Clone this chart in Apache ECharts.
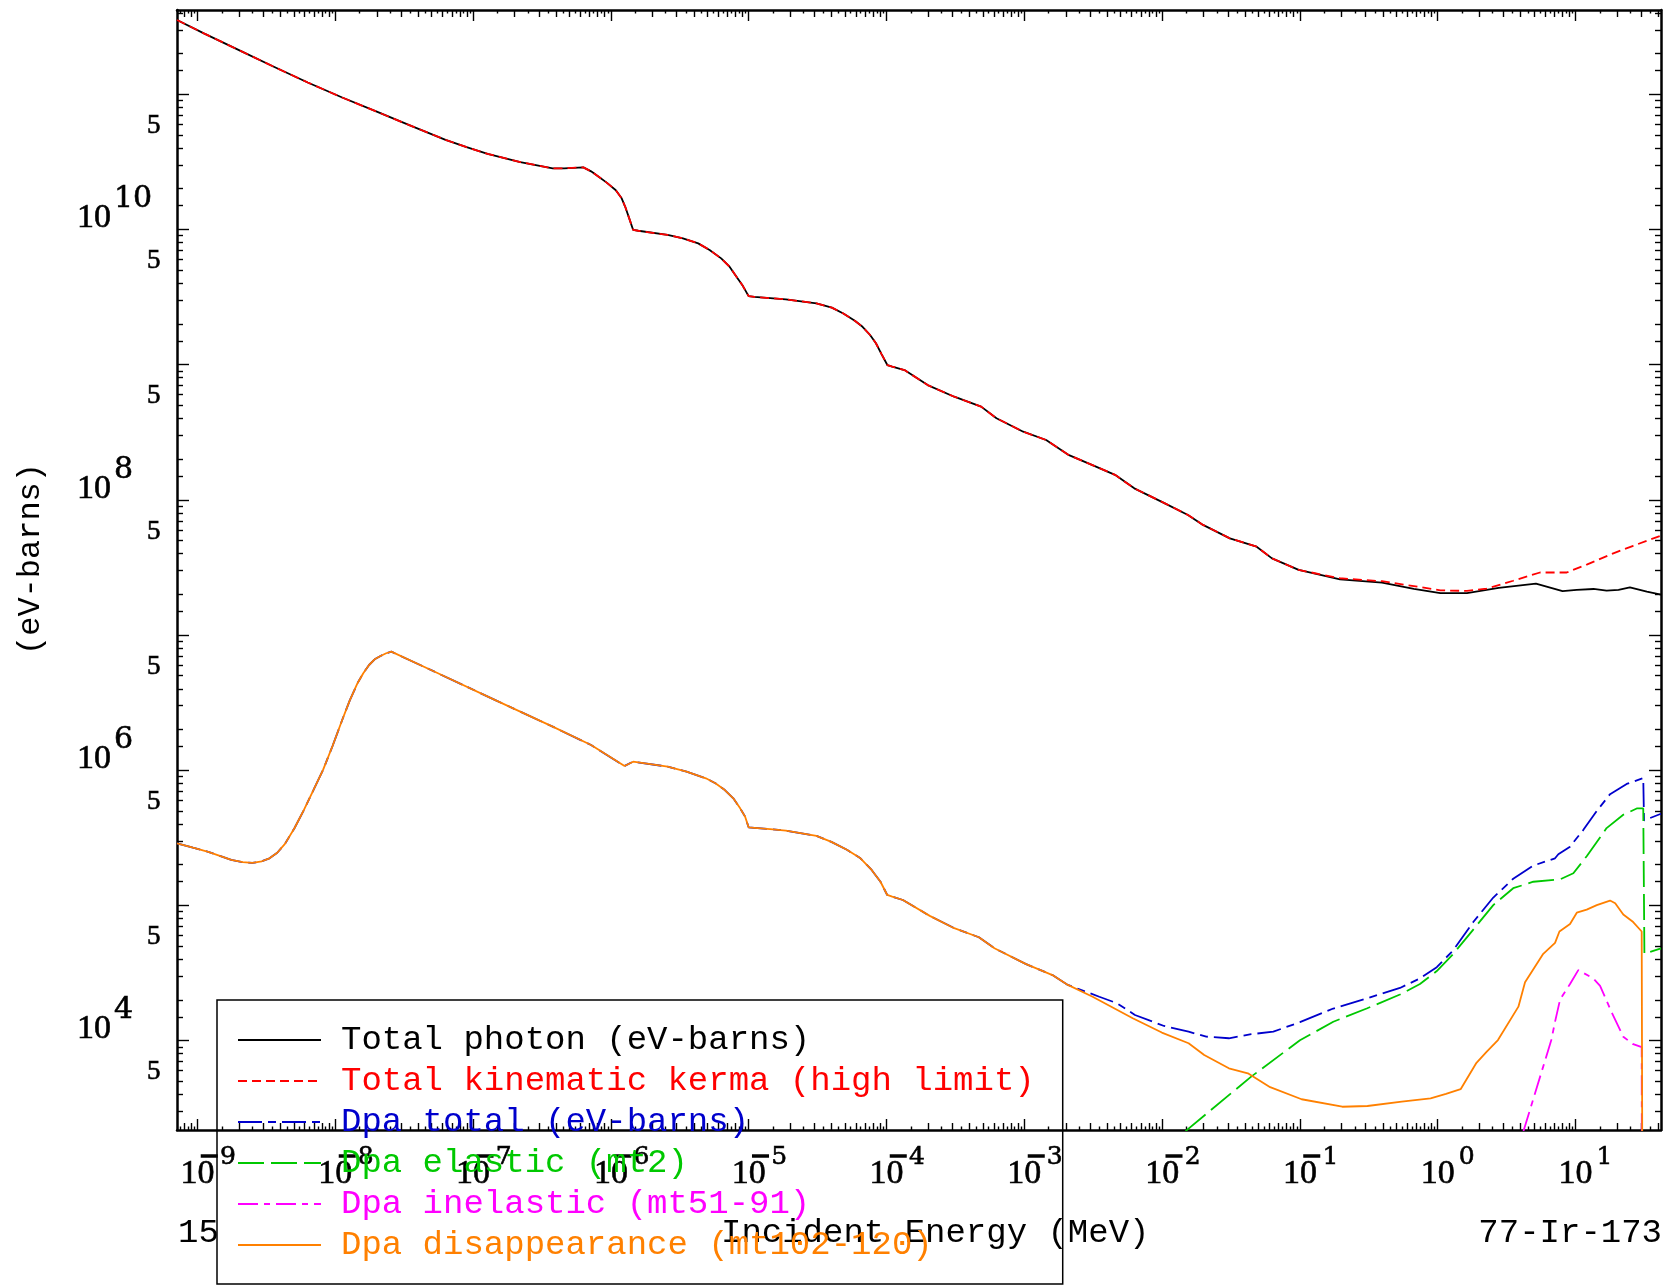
<!DOCTYPE html>
<html><head><meta charset="utf-8">
<script src="https://cdn.jsdelivr.net/npm/echarts@6/dist/echarts.min.js"></script>
<style>html,body{margin:0;padding:0;background:#fff}#c{width:1667px;height:1286px}</style>
</head><body><div id="c"></div>
<script>
// ---- axis ranges (MeV, eV-barns)
const energyRange = [7.1e-10, 41.7];
const valueRange = [2.18e3, 4.2e11];

// ---- tick labels
const xLabelExponents = [-9, -8, -7, -6, -5, -4, -3, -2, -1, 0, 1];
const yLabelExponents = [4, 6, 8, 10];
const yFiveLabels = [5e3, 5e4, 5e5, 5e6, 5e7, 5e8, 5e9, 5e10];

// ---- legend / series names and colours
const seriesNames = [
  'Total photon (eV-barns)',
  'Total kinematic kerma (high limit)',
  'Dpa total (eV-barns)',
  'Dpa elastic (mt2)',
  'Dpa inelastic (mt51-91)',
  'Dpa disappearance (mt102-120)'
];
const seriesColors = ['#000000', '#ff0000', '#0000cc', '#00c800', '#ff00ff', '#ff8000'];

// ---- data: [energy (MeV), value (eV-barns)]
const totalPhoton = [
  [7.10e-10,3.54e11],[1.122e-9,2.81e11],[2.00e-9,2.12e11],[3.55e-9,1.603e11],[6.31e-9,1.222e11],
  [1.122e-8,9.46e10],[2.00e-8,7.43e10],[3.55e-8,5.83e10],[6.31e-8,4.60e10],[8.97e-8,4.06e10],
  [1.274e-7,3.62e10],[2.20e-7,3.15e10],[3.78e-7,2.83e10],[4.58e-7,2.83e10],[6.31e-7,2.88e10],
  [7.18e-7,2.69e10],[8.15e-7,2.45e10],[9.27e-7,2.23e10],[1.086e-6,1.95e10],[1.197e-6,1.70e10],
  [1.27e-6,1.47e10],[1.358e-6,1.208e10],[1.45e-6,9.91e9],[1.58e-6,9.78e9],[2.58e-6,9.10e9],
  [3.33e-6,8.59e9],[4.30e-6,7.89e9],[5.20e-6,7.05e9],[6.31e-6,6.11e9],[7.26e-6,5.30e9],
  [8.15e-6,4.47e9],[9.08e-6,3.81e9],[9.98e-6,3.21e9],[1.10e-5,3.17e9],[1.86e-5,3.04e9],
  [3.10e-5,2.84e9],[4.01e-5,2.64e9],[4.86e-5,2.39e9],[5.89e-5,2.11e9],[6.70e-5,1.905e9],
  [7.60e-5,1.656e9],[8.38e-5,1.44e9],[9.20e-5,1.197e9],[1.014e-4,9.93e8],[1.10e-4,9.68e8],
  [1.35e-4,9.12e8],[1.99e-4,7.06e8],[3.10e-4,5.79e8],[4.86e-4,4.89e8],[6.28e-4,4.01e8],
  [9.82e-4,3.19e8],[1.44e-3,2.77e8],[2.11e-3,2.14e8],[3.31e-3,1.76e8],[4.55e-3,1.53e8],
  [6.28e-3,1.216e8],[1.047e-2,9.42e7],[1.54e-2,7.73e7],[1.98e-2,6.52e7],[3.10e-2,5.19e7],
  [4.85e-2,4.50e7],[6.27e-2,3.69e7],[9.79e-2,3.03e7],[0.1954,2.58e7],[0.394,2.44e7],
  [0.671,2.19e7],[1.045,2.04e7],[1.63,2.04e7],[2.77,2.23e7],[5.16,2.40e7],
  [8.05,2.11e7],[10.2,2.16e7],[13.5,2.19e7],[16.8,2.13e7],[20.5,2.16e7],[24.8,2.25e7],[32.9,2.09e7],[41.7,1.99e7]
];
const kermaHigh = [
  [0.1954,2.63e7],[0.394,2.50e7],[0.671,2.30e7],[1.045,2.14e7],[1.63,2.12e7],[2.26,2.20e7],
  [3.53,2.52e7],[5.52,2.90e7],[8.63,2.90e7],[12.05,3.32e7],[18.8,4.02e7],[26.2,4.57e7],[41.7,5.43e7]
];
const dpaDisappearance = [
  [7.10e-10,2.88e5],[9.27e-10,2.67e5],[1.197e-9,2.49e5],[1.452e-9,2.32e5],[1.758e-9,2.17e5],
  [2.13e-9,2.09e5],[2.50e-9,2.06e5],[2.93e-9,2.12e5],[3.33e-9,2.23e5],[3.79e-9,2.45e5],
  [4.31e-9,2.85e5],[5.05e-9,3.72e5],[5.92e-9,5.08e5],[6.95e-9,7.14e5],[8.15e-9,1.005e6],
  [9.55e-9,1.51e6],[1.122e-8,2.35e6],[1.276e-8,3.30e6],[1.449e-8,4.40e6],[1.596e-8,5.21e6],
  [1.758e-8,6.00e6],[1.93e-8,6.61e6],[2.13e-8,7.00e6],[2.34e-8,7.33e6],[2.55e-8,7.53e6],
  [5.56e-8,5.21e6],[1.449e-7,3.30e6],[3.78e-7,2.10e6],[7.18e-7,1.535e6],[1.256e-6,1.074e6],
  [1.449e-6,1.156e6],[2.58e-6,1.062e6],[3.54e-6,9.75e5],[4.89e-6,8.71e5],[5.73e-6,8.00e5],
  [6.71e-6,7.13e5],[7.73e-6,6.19e5],[8.67e-6,5.22e5],[9.42e-6,4.53e5],[9.98e-6,3.78e5],
  [1.10e-5,3.75e5],[1.429e-5,3.66e5],[1.862e-5,3.57e5],[3.10e-5,3.27e5],[3.98e-5,2.95e5],
  [5.16e-5,2.58e5],[6.47e-5,2.23e5],[7.80e-5,1.828e5],[9.04e-5,1.496e5],[1.012e-4,1.194e5],
  [1.10e-4,1.16e5],[1.315e-4,1.096e5],[2.06e-4,8.36e4],[3.10e-4,6.78e4],[4.68e-4,5.81e4],
  [6.07e-4,4.82e4],[1.021e-3,3.69e4],[1.600e-3,3.05e4],[2.07e-3,2.58e4],[3.13e-3,2.11e4],
  [6.12e-3,1.462e4],[9.95e-3,1.146e4],[1.556e-2,9.55e3],[2.02e-2,7.82e3],[3.05e-2,6.24e3],
  [4.19e-2,5.73e3],[6.08e-2,4.52e3],[0.1028,3.68e3],[0.2028,3.24e3],[0.309,3.28e3],
  [0.548,3.53e3],[0.887,3.74e3],[1.148,4.03e3],[1.466,4.37e3],[1.91,6.85e3],[2.26,8.24e3],
  [2.735,1.009e4],[3.85,1.782e4],[4.30,2.70e4],[5.83,4.38e4],[7.10,5.28e4],[7.64,6.41e4],
  [9.12,7.29e4],[10.21,8.83e4],[12.05,9.31e4],[14.26,1.005e5],[17.8,1.086e5],[19.4,1.038e5],
  [22.2,8.57e4],[26.2,7.53e4],[30.2,6.41e4],[30.7,100]
];
const dpaTotalTail = [
  [3.50e-3,2.11e4],[4.71e-3,1.888e4],[6.35e-3,1.545e4],[1.033e-2,1.282e4],[1.556e-2,1.164e4],
  [2.09e-2,1.069e4],[3.05e-2,1.040e4],[4.43e-2,1.114e4],[6.41e-2,1.164e4],[0.1,1.368e4],
  [0.1746,1.726e4],[0.305,2.05e4],[0.532,2.45e4],[0.743,2.88e4],[0.984,3.49e4],[1.297,4.66e4],
  [1.811,7.53e4],[2.53,1.143e5],[3.53,1.574e5],[4.94,1.968e5],[7.10,2.23e5],[7.50,2.39e5],
  [9.12,2.72e5],[11.40,3.62e5],[14.26,4.99e5],[17.8,6.65e5],[23.5,7.91e5],[31.0,8.75e5],
  [31.4,4.25e5],[41.7,4.76e5]
];
const dpaElastic = [
  [1.479e-2,2.14e3],[4.43e-2,5.41e3],[0.1,1.005e4],[0.1746,1.377e4],[0.305,1.726e4],[0.532,2.19e4],
  [0.743,2.62e4],[0.984,3.27e4],[1.297,4.38e4],[1.811,6.62e4],[2.53,1.005e5],[3.53,1.340e5],
  [4.94,1.496e5],[7.71,1.556e5],[9.64,1.730e5],[12.05,2.31e5],[16.8,3.73e5],[22.2,4.68e5],
  [27.8,5.21e5],[31.0,5.21e5],[31.6,4.38e4],[41.7,4.80e4]
];
const dpaInelastic = [
  [4.19,2.14e3],[6.67,1.009e4],[7.10,1.377e4],[7.73,2.02e4],[9.12,2.62e4],[10.47,3.32e4],
  [13.46,2.88e4],[15.07,2.54e4],[18.28,1.618e4],[22.2,1.067e4],[26.2,9.40e3],[30.2,8.93e3],[30.4,100]
];

// ---- build series data (shared low-energy parts are the same curves)
const kerma = totalPhoton.filter(p => p[0] < 0.1).concat(kermaHigh);
const dpaTotal = dpaDisappearance.filter(p => p[0] <= 2.07e-3).concat(dpaTotalTail);
const seriesData = [totalPhoton, kerma, dpaTotal, dpaElastic, dpaInelastic, dpaDisappearance];
const seriesDash = ['solid', [9, 5], [24, 6, 8, 6], [26, 7], [20, 6, 6, 6], 'solid'];
const seriesWidth = [1.8, 1.8, 1.8, 1.8, 1.8, 1.8];

const L = Math.log10;
const xLo = L(energyRange[0]), xHi = L(energyRange[1]);
const yLo = L(valueRange[0]), yHi = L(valueRange[1]);

function logTicks(lo, hi, mantissas) {
  const out = [];
  for (let n = Math.floor(lo) - 1; n <= Math.ceil(hi); n++) {
    for (const m of mantissas) {
      const v = n + L(m);
      if (v >= lo - 1e-9 && v <= hi + 1e-9) out.push(v);
    }
  }
  return out;
}
const xMajor = logTicks(xLo, xHi, [1]);
const xMid = logTicks(xLo, xHi, [2, 3, 4, 5, 6, 7, 8, 9]);
const xSmall = logTicks(xLo, xHi, [1.5, 2.5, 3.5, 4.5, 5.5, 6.5, 7.5, 8.5, 9.5]);
const yMajor = logTicks(yLo, yHi, [1]);
const yMinor = logTicks(yLo, yHi, [1.5, 2, 3, 4, 5, 6, 7, 8, 9]);

const SERIF = 'Liberation Serif';
const SERIF2 = 'DejaVu Serif';
const MONO = 'Liberation Mono';
const LW = 2.5;
const thick = { textBorderColor: '#000', textBorderWidth: 0.6 };

function xAxisDef(pos, ticks, len, withLine, withLabels) {
  const ax = {
    type: 'value', position: pos, min: xLo, max: xHi,
    axisLine: { show: withLine, onZero: false, lineStyle: { color: '#000', width: LW } },
    axisTick: { show: true, inside: true, length: len, customValues: ticks, lineStyle: { color: '#000', width: 1.4 } },
    axisLabel: { show: false },
    splitLine: { show: false }
  };
  if (withLabels) {
    ax.axisLabel = {
      show: true, customValues: xLabelExponents, margin: 21, verticalAlign: 'top', align: 'center',
      color: '#000', fontFamily: SERIF,
      formatter: v => {
        const n = Math.round(v);
        return n < 0 ? '{sn|}{m|\u2212}{e|' + (-n) + '}\n{b|10}' : '{sp|}{e|' + n + '}\n{b|10}';
      },
      rich: {
        sn: { width: 40, height: 10 },
        sp: { width: 58, height: 10 },
        m: { fontSize: 25, lineHeight: 12, fontFamily: SERIF2, color: '#000', textBorderColor: '#000', textBorderWidth: 1.4 },
        e: Object.assign({ fontSize: 25, lineHeight: 12, fontFamily: SERIF2, color: '#000' }, thick),
        b: Object.assign({ fontSize: 34, lineHeight: 22, fontFamily: SERIF, color: '#000' }, thick)
      }
    };
  }
  return ax;
}
function yAxisDef(pos, ticks, len, withLine, withLabels) {
  const ax = {
    type: 'value', position: pos, min: yLo, max: yHi,
    axisLine: { show: withLine, onZero: false, lineStyle: { color: '#000', width: LW } },
    axisTick: { show: true, inside: true, length: len, customValues: ticks, lineStyle: { color: '#000', width: 1.4 } },
    axisLabel: { show: false },
    splitLine: { show: false }
  };
  if (withLabels) {
    ax.axisLabel = {
      show: true, customValues: yLabelExponents.concat(yFiveLabels.map(L)),
      margin: 100, align: 'left', verticalAlign: 'bottom', color: '#000', fontFamily: SERIF,
      formatter: v => {
        const n = Math.round(v);
        if (Math.abs(v - n) < 1e-6) return '{ys|}{ye|' + n + '}\n{yb|10}';
        return '{f|5}';
      },
      rich: {
        ys: { width: 37, height: 10 },
        ye: Object.assign({ fontSize: 30, lineHeight: 16, fontFamily: SERIF2, color: '#000' }, thick),
        yb: Object.assign({ fontSize: 34, lineHeight: 22, fontFamily: SERIF, color: '#000' }, thick),
        f: Object.assign({ fontSize: 27, lineHeight: 18, fontFamily: SERIF, color: '#000', padding: [0, 0, 0, 70] }, thick)
      }
    };
  }
  return ax;
}

const chart = echarts.init(document.getElementById('c'), null, { renderer: 'canvas' });
chart.setOption({
  backgroundColor: '#ffffff',
  animation: false,
  grid: { left: 177, right: 6, top: 10, bottom: 156, containLabel: false, outerBoundsMode: 'none' },
  xAxis: [
    xAxisDef('bottom', xMajor, 11, true, true),
    xAxisDef('bottom', xMid, 7, false, false),
    xAxisDef('bottom', xSmall, 3.5, false, false),
    xAxisDef('top', xMajor, 11, true, false),
    xAxisDef('top', xMid, 7, false, false),
    xAxisDef('top', xSmall, 3.5, false, false)
  ],
  yAxis: [
    yAxisDef('left', yMajor, 12, true, true),
    yAxisDef('left', yMinor, 6, false, false),
    yAxisDef('right', yMajor, 12, true, false),
    yAxisDef('right', yMinor, 6, false, false)
  ],
  legend: {
    orient: 'vertical', left: 217, top: 1000, selectedMode: false,
    padding: [23, 28, 22, 20], itemGap: 7, itemWidth: 83, itemHeight: 14,
    borderColor: '#000', borderWidth: 1.5, backgroundColor: 'transparent',
    itemStyle: { opacity: 0 },
    textStyle: { fontFamily: MONO, fontSize: 34, lineHeight: 34, padding: [0, 0, 0, 15] },
    data: seriesNames.map((n, i) => ({ name: n, textStyle: { color: seriesColors[i] } }))
  },
  graphic: [
    { type: 'text', x: 31, y: 559, rotation: Math.PI / 2,
      style: { text: '(eV-barns)', fontFamily: MONO, fontSize: 32, fill: '#000', textAlign: 'center', textVerticalAlign: 'middle' } },
    { type: 'text', x: 178, y: 1233,
      style: { text: '15', fontFamily: MONO, fontSize: 34, fill: '#000', textAlign: 'left', textVerticalAlign: 'middle' } },
    { type: 'text', x: 721, y: 1233,
      style: { text: 'Incident Energy (MeV)', fontFamily: MONO, fontSize: 34, fill: '#000', textAlign: 'left', textVerticalAlign: 'middle' } },
    { type: 'text', x: 1662, y: 1233,
      style: { text: '77-Ir-173', fontFamily: MONO, fontSize: 34, fill: '#000', textAlign: 'right', textVerticalAlign: 'middle' } }
  ],
  series: seriesData.map((d, i) => ({
    name: seriesNames[i], type: 'line', xAxisIndex: 0, yAxisIndex: 0,
    data: d.map(p => [L(p[0]), L(p[1])]),
    symbol: 'none', showSymbol: false, smooth: false, clip: true, z: 2 + i,
    lineStyle: { color: seriesColors[i], width: seriesWidth[i], type: seriesDash[i] },
    itemStyle: { color: seriesColors[i] },
    emphasis: { disabled: true }
  }))
});
</script>
</body></html>
